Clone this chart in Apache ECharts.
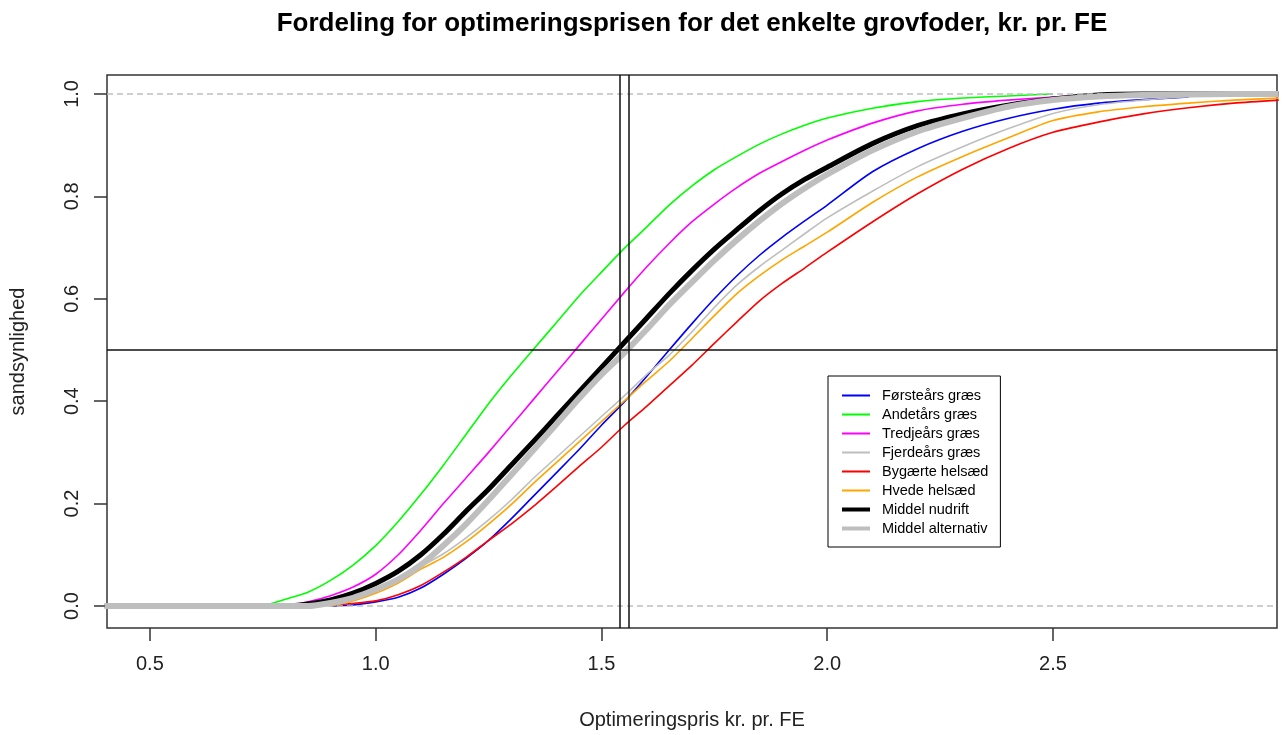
<!DOCTYPE html>
<html><head><meta charset="utf-8">
<script src="https://cdn.jsdelivr.net/npm/echarts@6/dist/echarts.min.js"></script>
<style>html,body{margin:0;padding:0;background:#fff}#c{width:1284px;height:735px}</style>
</head><body><div id="c"></div>
<script>
// shared x grid (kr. pr. FE)
const xs = [0.40, 0.70, 0.75, 0.80, 0.85, 0.90, 0.95, 1.00, 1.05, 1.10, 1.15, 1.20, 1.25, 1.30, 1.35, 1.40, 1.45, 1.50, 1.55, 1.60, 1.65, 1.70, 1.75, 1.80, 1.85, 1.90, 1.95, 2.00, 2.10, 2.20, 2.30, 2.40, 2.50, 2.60, 2.70, 2.80, 2.90, 3.00];

const foersteaars = [null, null, null, null, null, 0, 0.002, 0.008, 0.017, 0.035, 0.062, 0.093, 0.128, 0.17, 0.215, 0.26, 0.305, 0.353, 0.398, 0.448, 0.5, 0.551, 0.6, 0.645, 0.685, 0.72, 0.752, 0.783, 0.848, 0.893, 0.927, 0.952, 0.97, 0.982, 0.989, 0.994, null, null];
const andetaars = [null, null, 0, 0.013, 0.027, 0.05, 0.08, 0.118, 0.165, 0.218, 0.275, 0.335, 0.395, 0.45, 0.502, 0.553, 0.605, 0.652, 0.698, 0.74, 0.783, 0.82, 0.852, 0.878, 0.902, 0.922, 0.939, 0.953, 0.972, 0.985, 0.992, 0.996, 1.0, null, null, null, null, null];
const tredjeaars = [null, null, null, 0, 0.008, 0.02, 0.037, 0.062, 0.1, 0.148, 0.2, 0.25, 0.3, 0.352, 0.404, 0.456, 0.508, 0.56, 0.612, 0.662, 0.708, 0.75, 0.785, 0.817, 0.845, 0.868, 0.89, 0.91, 0.943, 0.967, 0.98, 0.988, 0.994, 0.998, 1.0, null, null, null];
const fjerdeaars = [null, null, null, null, 0, 0.004, 0.012, 0.028, 0.05, 0.077, 0.102, 0.133, 0.168, 0.207, 0.25, 0.29, 0.33, 0.37, 0.41, 0.452, 0.49, 0.535, 0.583, 0.627, 0.663, 0.695, 0.727, 0.758, 0.81, 0.858, 0.897, 0.932, 0.962, 0.979, 0.988, 0.995, 0.999, 1.0];
const bygaerte = [null, null, null, null, 0, 0.002, 0.005, 0.01, 0.022, 0.04, 0.066, 0.095, 0.128, 0.16, 0.195, 0.233, 0.272, 0.31, 0.352, 0.39, 0.43, 0.47, 0.513, 0.555, 0.596, 0.63, 0.66, 0.691, 0.75, 0.805, 0.853, 0.893, 0.925, 0.945, 0.961, 0.973, 0.982, 0.988];
const hvede = [null, null, null, null, null, 0, 0.01, 0.025, 0.045, 0.072, 0.095, 0.125, 0.16, 0.198, 0.24, 0.28, 0.32, 0.36, 0.4, 0.44, 0.478, 0.522, 0.567, 0.61, 0.645, 0.676, 0.703, 0.73, 0.788, 0.838, 0.878, 0.914, 0.948, 0.965, 0.975, 0.982, 0.988, 0.992];
const middelNudrift = [0, 0, 0, 0, 0.004, 0.012, 0.025, 0.044, 0.068, 0.1, 0.14, 0.185, 0.228, 0.275, 0.322, 0.37, 0.418, 0.466, 0.514, 0.562, 0.61, 0.655, 0.697, 0.735, 0.772, 0.805, 0.833, 0.857, 0.903, 0.938, 0.961, 0.978, 0.99, 0.998, 1.0, 1.0, 1.0, 1.0];
const middelAlternativ = [0, 0, 0, 0, 0, 0.006, 0.016, 0.032, 0.052, 0.08, 0.118, 0.16, 0.207, 0.256, 0.305, 0.355, 0.405, 0.452, 0.494, 0.54, 0.588, 0.632, 0.675, 0.715, 0.752, 0.786, 0.816, 0.843, 0.89, 0.927, 0.953, 0.975, 0.988, 0.995, 0.998, 0.999, 1.0, 1.0];

const names = ['Førsteårs græs', 'Andetårs græs', 'Tredjeårs græs', 'Fjerdeårs græs', 'Bygærte helsæd', 'Hvede helsæd', 'Middel nudrift', 'Middel alternativ'];
const colors = ['#0000ff', '#00ff00', '#ff00ff', '#bebebe', '#ff0000', '#ffa500', '#000000', '#bebebe'];
const widths = [1.6, 1.6, 1.6, 1.6, 1.6, 1.6, 5, 6];
const seriesValues = [foersteaars, andetaars, tredjeaars, fjerdeaars, bygaerte, hvede, middelNudrift, middelAlternativ];

const xTicks = [0.5, 1.0, 1.5, 2.0, 2.5];
const yTicks = [0.0, 0.2, 0.4, 0.6, 0.8, 1.0];
const medianNudrift = 1.536;
const medianAlternativ = 1.558;
const hLines = [0, 1];
const midLine = 0.5;

const chart = echarts.init(document.getElementById('c'), null, {renderer: 'canvas'});
const font = 'Liberation Sans, Arial, sans-serif';

const thinIcon = 'path://M0,6h28v2h-28z M0,0h0.001v0.001h-0.001z M27.999,13.999h0.001v0.001h-0.001z';
const thickIcon = 'path://M0,5h28v4h-28z M0,0h0.001v0.001h-0.001z M27.999,13.999h0.001v0.001h-0.001z';

const series = names.map((n, i) => ({
  name: n, type: 'line', symbol: 'none', smooth: 0.25,
  data: xs.map((x, j) => [x, seriesValues[i][j]]),
  lineStyle: {color: colors[i], width: widths[i], join: 'round'},
  itemStyle: {color: colors[i]},
  connectNulls: false, silent: true
}));

series.unshift({
  name: 'ref', type: 'line', data: [], silent: true, z: 1,
  markLine: {
    symbol: 'none', silent: true, animation: false, label: {show: false},
    data: [
      ...hLines.map(v => ({yAxis: v, lineStyle: {color: '#bebebe', type: [6, 4], width: 1.5}})),
      {yAxis: midLine, lineStyle: {color: '#111', type: 'solid', width: 1.5}},
      {xAxis: medianNudrift, lineStyle: {color: '#111', type: 'solid', width: 1.5}},
      {xAxis: medianAlternativ, lineStyle: {color: '#111', type: 'solid', width: 1.5}}
    ]
  }
});

chart.setOption({
  animation: false,
  backgroundColor: '#fff',
  title: {
    text: 'Fordeling for optimeringsprisen for det enkelte grovfoder, kr. pr. FE',
    left: 687, textAlign: 'center', top: 6,
    textStyle: {fontFamily: font, fontSize: 26, fontWeight: 'bold', color: '#000'}
  },
  grid: {left: 107, right: 7, top: 75, bottom: 107, show: true, borderColor: '#333', borderWidth: 1.5, backgroundColor: 'transparent'},
  legend: {
    data: names.map((n, i) => ({name: n, icon: i >= 6 ? thickIcon : thinIcon, itemStyle: {color: colors[i]}})),
    orient: 'vertical', left: 828, top: 376,
    padding: [12, 12, 11, 14],
    itemWidth: 28, itemHeight: 14, itemGap: 4,
    borderColor: '#000', borderWidth: 1, backgroundColor: '#fff',
    selectedMode: false,
    textStyle: {fontFamily: font, fontSize: 14.5, color: '#000', lineHeight: 14, padding: [0, 0, 0, 7]}
  },
  xAxis: {
    type: 'value', min: 0.405, max: 2.996,
    name: 'Optimeringspris kr. pr. FE', nameLocation: 'middle', nameGap: 82,
    nameTextStyle: {fontFamily: font, fontSize: 20, color: '#222'},
    axisLine: {show: false, onZero: false},
    axisTick: {show: true, length: 13, customValues: xTicks, lineStyle: {color: '#333', width: 1.5}},
    axisLabel: {customValues: xTicks, margin: 26, fontFamily: font, fontSize: 20, color: '#222', formatter: v => v.toFixed(1)},
    splitLine: {show: false}
  },
  yAxis: {
    type: 'value', min: -0.043, max: 1.037,
    name: 'sandsynlighed', nameLocation: 'middle', nameGap: 79,
    nameTextStyle: {fontFamily: font, fontSize: 20, color: '#222'},
    axisLine: {show: false, onZero: false},
    axisTick: {show: true, length: 13, customValues: yTicks, lineStyle: {color: '#333', width: 1.5}},
    axisLabel: {customValues: yTicks, rotate: 90, margin: 25, fontFamily: font, fontSize: 20, color: '#222', formatter: v => v.toFixed(1)},
    splitLine: {show: false}
  },
  series: series
});
</script>
</body></html>
